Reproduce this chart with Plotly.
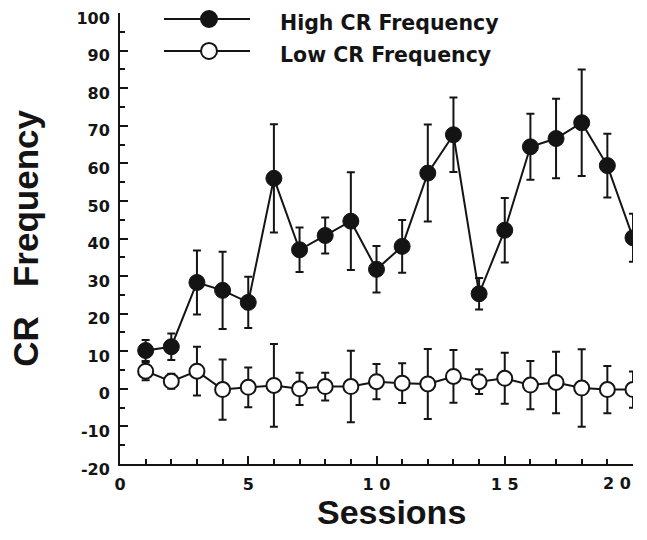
import plotly.graph_objects as go

sessions = list(range(1, 21))
high_mean = [10.2, 11.2, 28.3, 26.2, 23.0, 56.0, 37.0, 40.8, 44.6, 31.8, 37.9, 57.4, 67.6, 25.3, 42.2, 64.4, 66.6, 70.8, 59.4, 40.2]
high_err = [2.8, 3.5, 8.5, 10.3, 6.8, 14.4, 5.9, 4.8, 13.0, 6.2, 7.0, 12.9, 9.9, 4.2, 8.6, 8.8, 10.6, 14.2, 8.5, 6.4]
low_mean = [4.7, 2.0, 4.7, -0.2, 0.4, 0.9, 0.0, 0.6, 0.6, 1.9, 1.5, 1.3, 3.3, 1.9, 2.8, 1.0, 1.7, 0.2, -0.2, -0.2]
low_err = [2.4, 2.0, 6.5, 8.0, 5.3, 11.0, 4.3, 3.7, 9.5, 4.7, 5.3, 9.3, 7.0, 3.3, 6.8, 6.4, 8.2, 10.3, 6.3, 4.8]

x_tickvals = [0, 5, 10, 15, 20]
x_ticktext = ["0", "5", "1 0", "1 5", ""]
x_last_label = "2 0"
y_tickvals = list(range(-20, 101, 10))
y_ticktext = ["-20", "-10", "0", "10", "20", "30", "40", "50", "60", "70", "80", "90", "100"]

series_names = ["High CR Frequency", "Low CR Frequency"]
x_title = "Sessions"
y_title = "CR\u00a0\u00a0\u00a0Frequency"

ARIAL = "Liberation Sans, Arial, sans-serif"
WIDE = "DejaVu Sans, Verdana, sans-serif"
INK = "#141414"

# page is offset by the default 8px body margin
OFF = 8
W, H = 647 - OFF, 540 - OFF
PL, PR, PT, PB = 120, 633, 13, 464.5  # plot area in page pixels
ml, mr, mt, mb = PL - OFF, 647 - PR, PT - OFF, 540 - PB


def px_x(page_x):
    return (page_x - PL) / (PR - PL)


def px_y(page_y):
    return (PB - page_y) / (PB - PT)


fig = go.Figure()

fig.add_trace(go.Scatter(
    x=sessions, y=low_mean, mode="lines+markers", name=series_names[1],
    line=dict(color=INK, width=2),
    marker=dict(size=15, color="white", line=dict(color=INK, width=2)),
    error_y=dict(type="data", array=low_err, visible=True, color=INK, thickness=2, width=4),
    showlegend=False,
))
fig.add_trace(go.Scatter(
    x=sessions, y=high_mean, mode="lines+markers", name=series_names[0],
    line=dict(color=INK, width=2),
    marker=dict(size=16, color=INK, line=dict(color=INK, width=1)),
    error_y=dict(type="data", array=high_err, visible=True, color=INK, thickness=2, width=4),
    showlegend=False,
))

# manual legend (paper coordinates)
shapes = []
annotations = []
legend_rows = [(series_names[0], INK, 19, 23), (series_names[1], "white", 51, 55)]
for name, fill, py, ty in legend_rows:
    shapes.append(dict(type="line", xref="paper", yref="paper",
                       x0=px_x(164), x1=px_x(250), y0=px_y(py), y1=px_y(py),
                       line=dict(color=INK, width=2)))
    shapes.append(dict(type="circle", xref="paper", yref="paper",
                       xsizemode="pixel", ysizemode="pixel",
                       xanchor=px_x(209), yanchor=px_y(py),
                       x0=-8, x1=8, y0=-8, y1=8,
                       fillcolor=fill, line=dict(color=INK, width=2)))
    annotations.append(dict(text=name, xref="paper", yref="paper",
                            x=px_x(278), y=px_y(ty), xanchor="left", yanchor="middle",
                            showarrow=False,
                            font=dict(family=WIDE, size=20.5, color=INK, weight="bold")))

# last x tick label, drawn slightly left of its tick as in the original
annotations.append(dict(text=x_last_label, xref="x", yref="paper",
                        x=x_tickvals[-1], y=px_y(484), xanchor="right", yanchor="middle",
                        showarrow=False,
                        font=dict(family=WIDE, size=16, color=INK, weight="bold")))

annotations.append(dict(text=x_title, xref="paper", yref="paper",
                        x=px_x(391.5), y=px_y(513), xanchor="center", yanchor="middle",
                        showarrow=False,
                        font=dict(family=ARIAL, size=34, color=INK, weight="bold")))
annotations.append(dict(text=y_title, xref="paper", yref="paper", textangle=-90,
                        x=px_x(26), y=px_y(239), xanchor="center", yanchor="middle",
                        showarrow=False,
                        font=dict(family=ARIAL, size=35, color=INK, weight="bold")))

fig.update_layout(
    width=W, height=H,
    margin=dict(l=ml, r=mr, t=mt, b=mb, autoexpand=False),
    plot_bgcolor="white", paper_bgcolor="white",
    shapes=shapes, annotations=annotations,
    showlegend=False,
    xaxis=dict(
        range=[0, 20], tickvals=x_tickvals, ticktext=x_ticktext,
        automargin=False, ticklabeloverflow="allow",
        showgrid=False, zeroline=False, showline=True, linecolor=INK, linewidth=2,
        ticks="inside", ticklen=8, tickwidth=2, tickcolor=INK,
        minor=dict(dtick=1, ticks="inside", ticklen=5, tickwidth=1.5, tickcolor=INK),
        tickfont=dict(family=WIDE, size=16, color=INK, weight="bold"),
        ticklabelstandoff=5,
    ),
    yaxis=dict(
        range=[-20, 100], tickvals=y_tickvals, ticktext=y_ticktext,
        automargin=False, ticklabeloverflow="allow",
        showgrid=False, zeroline=False, showline=True, linecolor=INK, linewidth=2,
        ticks="inside", ticklen=8, tickwidth=2, tickcolor=INK,
        minor=dict(dtick=5, ticks="inside", ticklen=5, tickwidth=1.5, tickcolor=INK),
        tickfont=dict(family=WIDE, size=16, color=INK, weight="bold"),
        ticklabelstandoff=5, ticklabelshift=5,
    ),
)

fig.write_html("out.html")
